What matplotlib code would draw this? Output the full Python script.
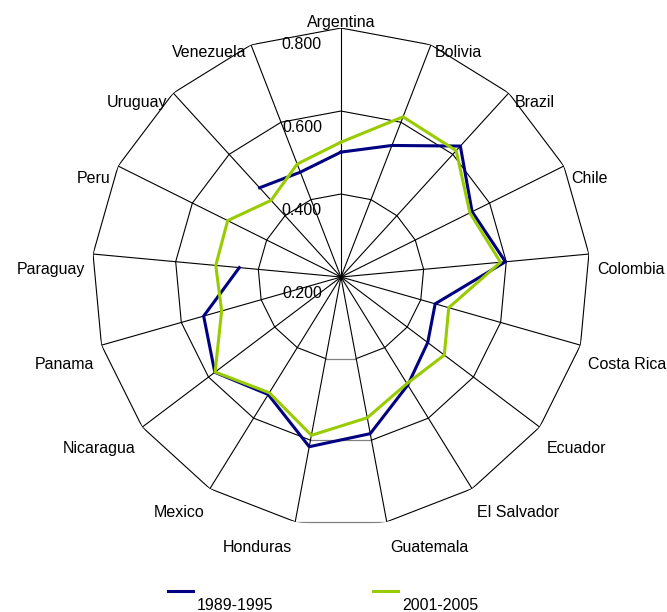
import numpy as np
import matplotlib.pyplot as plt
from matplotlib.lines import Line2D

# ------------------------------------------------------------
# Data
# ------------------------------------------------------------
countries = ["Argentina", "Bolivia", "Brazil", "Chile", "Colombia", "Costa Rica",
             "Ecuador", "El Salvador", "Guatemala", "Honduras", "Mexico",
             "Nicaragua", "Panama", "Paraguay", "Peru", "Uruguay", "Venezuela"]
vals_1989 = [0.501, 0.540, 0.627, 0.553, 0.598, 0.436, 0.462, 0.506, 0.584,
             0.616, 0.533, 0.581, 0.544, 0.446, np.nan, 0.491, 0.471]
vals_2001 = [0.525, 0.614, 0.612, 0.547, 0.586, 0.470, 0.512, 0.502, 0.545,
             0.588, 0.528, 0.580, 0.499, 0.503, 0.505, 0.450, 0.492]
ring_levels = [0.4, 0.6, 0.8]
tick_levels = [0.2, 0.4, 0.6, 0.8]
series_names = ["1989-1995", "2001-2005"]

plt.rcParams['font.family'] = ['Liberation Sans', 'DejaVu Sans']
plt.rcParams['font.size'] = 11.5

fig = plt.figure(figsize=(6.67, 6.12), dpi=100)
ax = fig.add_axes([0.1379, 0.1405, 0.7466, 0.8137], projection='polar')
ax.set_theta_zero_location('N')
ax.set_theta_direction(-1)
ax.set_ylim(0.2, 0.8)
ax.grid(False)
ax.spines['polar'].set_visible(False)
ax.set_xticks([])
ax.set_yticks([])
ax.patch.set_alpha(0)

n = len(countries)
theta = 2 * np.pi * np.arange(n) / n

# polygon rings (bottom segment between Guatemala and Honduras is grey)
order = list(range(9, n)) + list(range(0, 9))
for r in ring_levels:
    ax.plot(theta[order], [r] * n, color='black', lw=0.8)
    ax.plot(theta[[8, 9]], [r, r], color='#808080', lw=0.9)

# spokes
for t in theta:
    ax.plot([t, t], [0.2, 0.8], color='black', lw=0.8)

# series
def closed(v):
    v = list(v)
    return np.append(theta, theta[0]), v + [v[0]]

t1, v1 = closed(vals_1989)
t2, v2 = closed(vals_2001)
ax.plot(t1, v1, color='#000080', lw=2.2)
ax.plot(t2, v2, color='#99CC00', lw=2.2)

# radial tick labels
for r in tick_levels:
    ax.annotate(f"{r:.3f}", xy=(0, r), xytext=(-19, -16), textcoords='offset pixels',
                ha='right', va='center')

# category labels
for name, t in zip(countries, theta):
    s, c = np.sin(t), np.cos(t)
    if abs(s) < 1e-6:
        ax.annotate(name, xy=(t, 0.8), xytext=(0, 6), textcoords='offset pixels',
                    ha='center', va='center')
        continue
    dx = np.sign(s) * 2 + 6 * s
    dy = -(16.5 - 9 * c)
    ax.annotate(name, xy=(t, 0.8), xytext=(dx, dy), textcoords='offset pixels',
                ha='left' if s > 0 else 'right', va='center')

# legend (Excel style: line sample above, label below)
W, H = 667.0, 612.0
for (x0, x1, xt), col, lab in zip([(168, 193, 197), (373, 398, 402)],
                                  ['#000080', '#99CC00'], series_names):
    fig.add_artist(Line2D([x0 / W, x1 / W], [1 - 591 / H, 1 - 591 / H],
                          color=col, lw=2.2, transform=fig.transFigure))
    fig.text(xt / W, 1 - 605 / H, lab, ha='left', va='center')

fig.savefig("out.png", dpi=100)
